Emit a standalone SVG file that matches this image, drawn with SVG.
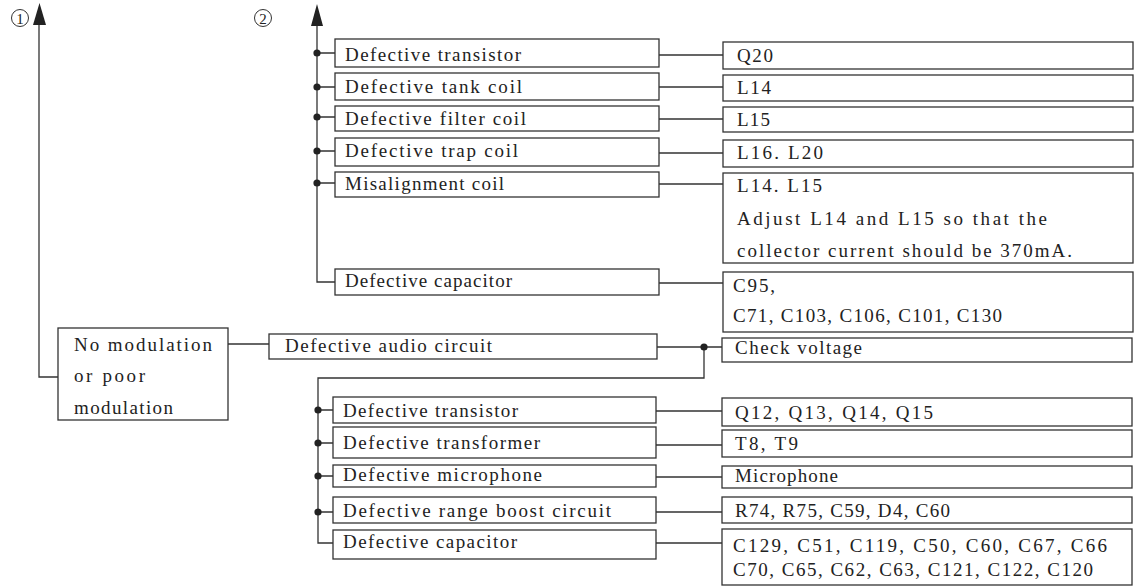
<svg xmlns="http://www.w3.org/2000/svg" width="1137" height="586" viewBox="0 0 1137 586">
<style>
.b{fill:#fff;stroke:#333;stroke-width:1.3}
.t{font-family:"Liberation Serif","Times New Roman",serif;font-size:19px;fill:#222}
.c{fill:none;stroke:#333;stroke-width:1.3}
.d{fill:#222}
.a{fill:#222}
</style>
<rect width="1137" height="586" fill="#fff"/>
<g id="connectors">
<path class="c" d="M58,377 H39 V22"/>
<path class="a" d="M33,25 L39.5,3 L46,25 Z"/>
<path class="c" d="M317,22 V282 H335 M317,53 H335"/>
<path class="a" d="M311,26 L317,4 L323,26 Z"/>
<path class="c" d="M317,87 H335 M317,117 H335 M317,151 H335 M317,183 H335"/>
<circle class="d" cx="317" cy="53" r="3.6"/>
<circle class="d" cx="317" cy="87" r="3.6"/>
<circle class="d" cx="317" cy="117" r="3.6"/>
<circle class="d" cx="317" cy="151" r="3.6"/>
<circle class="d" cx="317" cy="183" r="3.6"/>
<path class="c" d="M659,55 H723 M659,87 H723 M659,119 H723 M659,153 H723 M659,184 H723 M659,283 H723"/>
<path class="c" d="M228,344 H269"/>
<path class="c" d="M657,347 H722 M704,347 V378 H318 V543 H333"/>
<circle class="d" cx="704" cy="347" r="3.6"/>
<path class="c" d="M318,410 H333 M318,443 H333 M318,476 H333 M318,512 H333"/>
<circle class="d" cx="318" cy="410" r="3.6"/>
<circle class="d" cx="318" cy="443" r="3.6"/>
<circle class="d" cx="318" cy="476" r="3.6"/>
<circle class="d" cx="318" cy="512" r="3.6"/>
<path class="c" d="M656,411 H722 M656,445 H722 M656,477 H722 M656,512 H722 M656,543 H722"/>
</g>
<g id="label1">
<circle cx="20" cy="18" r="8.5" fill="none" stroke="#333" stroke-width="1"/>
<text class="t" x="20" y="23.5" text-anchor="middle" style="font-size:15px">1</text>
</g>
<g id="label2">
<circle cx="263" cy="18" r="8.5" fill="none" stroke="#333" stroke-width="1"/>
<text class="t" x="263" y="23.5" text-anchor="middle" style="font-size:15px">2</text>
</g>
<g id="u1"><rect class="b" x="335" y="39" width="324" height="28"/><text class="t" x="345" y="61" textLength="176" lengthAdjust="spacing">Defective transistor</text></g>
<g id="u2"><rect class="b" x="335" y="73" width="324" height="27"/><text class="t" x="345" y="93" textLength="177" lengthAdjust="spacing">Defective tank coil</text></g>
<g id="u3"><rect class="b" x="335" y="106" width="324" height="25"/><text class="t" x="345" y="125" textLength="181" lengthAdjust="spacing">Defective filter coil</text></g>
<g id="u4"><rect class="b" x="335" y="138" width="324" height="28"/><text class="t" x="345" y="157" textLength="173" lengthAdjust="spacing">Defective trap coil</text></g>
<g id="u5"><rect class="b" x="335" y="172" width="324" height="25"/><text class="t" x="345" y="190" textLength="159" lengthAdjust="spacing">Misalignment coil</text></g>
<g id="u6"><rect class="b" x="335" y="269" width="324" height="26"/><text class="t" x="345" y="287" textLength="167" lengthAdjust="spacing">Defective capacitor</text></g>
<g id="r1"><rect class="b" x="723" y="42" width="410" height="27"/><text class="t" x="737" y="62" textLength="36" lengthAdjust="spacing">Q20</text></g>
<g id="r2"><rect class="b" x="723" y="75" width="410" height="26"/><text class="t" x="737" y="94" textLength="34" lengthAdjust="spacing">L14</text></g>
<g id="r3"><rect class="b" x="723" y="107" width="410" height="25"/><text class="t" x="737" y="126" textLength="33" lengthAdjust="spacing">L15</text></g>
<g id="r4"><rect class="b" x="723" y="140" width="410" height="27"/><text class="t" x="737" y="159" textLength="86" lengthAdjust="spacing">L16. L20</text></g>
<g id="r5"><rect class="b" x="723" y="173" width="410" height="90"/>
<text class="t" x="737" y="192" textLength="85" lengthAdjust="spacing">L14. L15</text>
<text class="t" x="737" y="225" textLength="310" lengthAdjust="spacing">Adjust L14 and L15 so that the</text>
<text class="t" x="737" y="257" textLength="335" lengthAdjust="spacing">collector current should be 370mA.</text></g>
<g id="r6"><rect class="b" x="723" y="272" width="410" height="60"/>
<text class="t" x="733" y="292" textLength="42" lengthAdjust="spacing">C95,</text>
<text class="t" x="733" y="322" textLength="269" lengthAdjust="spacing">C71, C103, C106, C101, C130</text></g>
<g id="root"><rect class="b" x="58" y="328" width="170" height="92"/>
<text class="t" x="74" y="351" textLength="138" lengthAdjust="spacing">No modulation</text>
<text class="t" x="74" y="382" textLength="71" lengthAdjust="spacing">or poor</text>
<text class="t" x="74" y="414" textLength="99" lengthAdjust="spacing">modulation</text></g>
<g id="audio"><rect class="b" x="269" y="334" width="388" height="25"/><text class="t" x="285" y="352" textLength="207" lengthAdjust="spacing">Defective audio circuit</text></g>
<g id="check"><rect class="b" x="722" y="338" width="410" height="24"/><text class="t" x="735" y="354" textLength="127" lengthAdjust="spacing">Check voltage</text></g>
<g id="l1"><rect class="b" x="333" y="397" width="323" height="26"/><text class="t" x="343" y="417" textLength="175" lengthAdjust="spacing">Defective transistor</text></g>
<g id="l2"><rect class="b" x="333" y="427" width="323" height="31"/><text class="t" x="343" y="449" textLength="197" lengthAdjust="spacing">Defective transformer</text></g>
<g id="l3"><rect class="b" x="333" y="465" width="323" height="22"/><text class="t" x="343" y="481" textLength="199" lengthAdjust="spacing">Defective microphone</text></g>
<g id="l4"><rect class="b" x="333" y="497" width="323" height="26"/><text class="t" x="343" y="517" textLength="268" lengthAdjust="spacing">Defective range boost circuit</text></g>
<g id="l5"><rect class="b" x="333" y="530" width="323" height="29"/><text class="t" x="343" y="548" textLength="174" lengthAdjust="spacing">Defective capacitor</text></g>
<g id="s1"><rect class="b" x="722" y="398" width="410" height="28"/><text class="t" x="735" y="419" textLength="198" lengthAdjust="spacing">Q12, Q13, Q14, Q15</text></g>
<g id="s2"><rect class="b" x="722" y="430" width="410" height="27"/><text class="t" x="735" y="450" textLength="63" lengthAdjust="spacing">T8, T9</text></g>
<g id="s3"><rect class="b" x="722" y="466" width="410" height="22"/><text class="t" x="735" y="482" textLength="103" lengthAdjust="spacing">Microphone</text></g>
<g id="s4"><rect class="b" x="722" y="497" width="410" height="26"/><text class="t" x="735" y="517" textLength="215" lengthAdjust="spacing">R74, R75, C59, D4, C60</text></g>
<g id="s5"><rect class="b" x="722" y="529" width="410" height="56"/>
<text class="t" x="733" y="552" textLength="374" lengthAdjust="spacing">C129, C51, C119, C50, C60, C67, C66</text>
<text class="t" x="733" y="576" textLength="360" lengthAdjust="spacing">C70, C65, C62, C63, C121, C122, C120</text></g>
</svg>
